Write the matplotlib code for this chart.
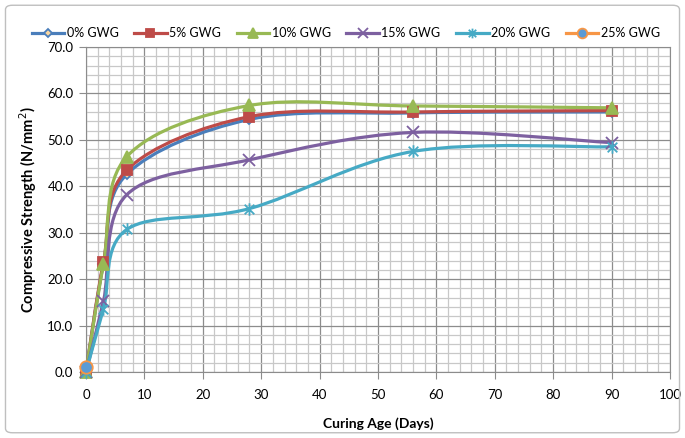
import matplotlib.pyplot as plt
import numpy as np
from matplotlib.path import Path
from matplotlib.patches import PathPatch, FancyBboxPatch
from matplotlib.lines import Line2D
from matplotlib.ticker import MultipleLocator

plt.rcParams['font.family'] = ['Lato', 'DejaVu Sans']

days = [0, 3, 7, 28, 56, 90]
gwg0 = [0.0, 23.3, 42.6, 54.4, 55.8, 56.0]
gwg5 = [0.0, 23.7, 43.5, 55.0, 56.0, 56.3]
gwg10 = [0.0, 23.2, 46.4, 57.4, 57.3, 56.9]
gwg15 = [0.0, 15.3, 38.2, 45.7, 51.6, 49.4]
gwg20 = [0.0, 13.6, 30.7, 35.2, 47.5, 48.5]
days25 = [0]
gwg25 = [1.0]

labels = ['0% GWG', '5% GWG', '10% GWG', '15% GWG', '20% GWG', '25% GWG']
colors = ['#4A7EBB', '#BE4B48', '#98B954', '#7D60A0', '#46AAC5', '#F79646']

# Excel style "star": an x with a vertical bar
star = Path([(-1, -1), (1, 1), (-1, 1), (1, -1), (0, -1.3), (0, 1.3)],
            [Path.MOVETO, Path.LINETO, Path.MOVETO, Path.LINETO, Path.MOVETO, Path.LINETO])
markers = ['D', 's', '^', 'x', star, 'o']
mfaces = ['#FAD7A0', colors[1], colors[2], colors[3], colors[4], '#5B9BD5']
msizes = [5, 7, 8, 8, 9, 9]


def smooth_path(x, y):
    # Catmull-Rom style bezier, like Excel's smoothed line
    pts = np.column_stack([x, y]).astype(float)
    n = len(pts)
    verts = [pts[0]]
    codes = [Path.MOVETO]
    for i in range(n - 1):
        p0 = pts[i - 1] if i > 0 else pts[i]
        p1 = pts[i]
        p2 = pts[i + 1]
        p3 = pts[i + 2] if i + 2 < n else pts[i + 1]
        verts += [p1 + (p2 - p0) / 6, p2 - (p3 - p1) / 6, p2]
        codes += [Path.CURVE4] * 3
    return Path(verts, codes)


fig = plt.figure(figsize=(6.85, 4.38), dpi=100)
fig.patches.append(FancyBboxPatch((0.008, 0.012), 0.984, 0.976, boxstyle='round,pad=0,rounding_size=0.01',
                                  transform=fig.transFigure, fill=False, edgecolor='#BFBFBF', lw=1))
ax = fig.add_axes([0.1255, 0.1507, 0.8525, 0.742])

series = [(days, gwg0), (days, gwg5), (days, gwg10), (days, gwg15), (days, gwg20), (days25, gwg25)]
handles = []
for (x, y), lab, c, m, mf, ms in zip(series, labels, colors, markers, mfaces, msizes):
    if len(x) > 1:
        ax.add_patch(PathPatch(smooth_path(x, y), fill=False, edgecolor=c, lw=2.3, zorder=3))
    ax.plot(x, y, linestyle='none', marker=m, markersize=ms, markerfacecolor=mf,
            markeredgecolor=c, markeredgewidth=1.3, zorder=4, clip_on=False)
    handles.append(Line2D([], [], color=c, lw=2.3, marker=m, markersize=min(ms - 1, 7),
                          markerfacecolor=mf, markeredgecolor=c, markeredgewidth=1.3))

ax.set_xlim(0, 100)
ax.set_ylim(0, 70)
ax.xaxis.set_major_locator(MultipleLocator(10))
ax.xaxis.set_minor_locator(MultipleLocator(2))
ax.yaxis.set_major_locator(MultipleLocator(10))
ax.yaxis.set_minor_locator(MultipleLocator(2))
ax.set_yticks(np.arange(0, 71, 10))
ax.set_yticklabels([f'{v:.1f}' for v in np.arange(0, 71, 10)])
ax.grid(which='major', color='#8C8C8C', lw=0.9)
ax.grid(which='minor', color='#C8C8C8', lw=0.9)
ax.set_axisbelow(True)
ax.tick_params(which='major', length=5, color='#8C8C8C', labelsize=9.5)
ax.tick_params(axis='x', pad=7)
ax.tick_params(axis='y', pad=4)
ax.tick_params(which='minor', length=0)
for s in ax.spines.values():
    s.set_color('#8C8C8C')

ax.set_xlabel('Curing Age (Days)', fontsize=10, fontweight='bold', labelpad=12)
ax.set_ylabel('Compressive Strength (N/mm$^2$)', fontsize=10.5, fontweight='bold', labelpad=6)

fig.legend(handles, labels, loc='center', bbox_to_anchor=(0.505, 1 - 33 / 438), ncol=6,
           frameon=False, fontsize=9, handlelength=2.6, columnspacing=1.25, handletextpad=0.2)

fig.savefig('out.png', dpi=100)
